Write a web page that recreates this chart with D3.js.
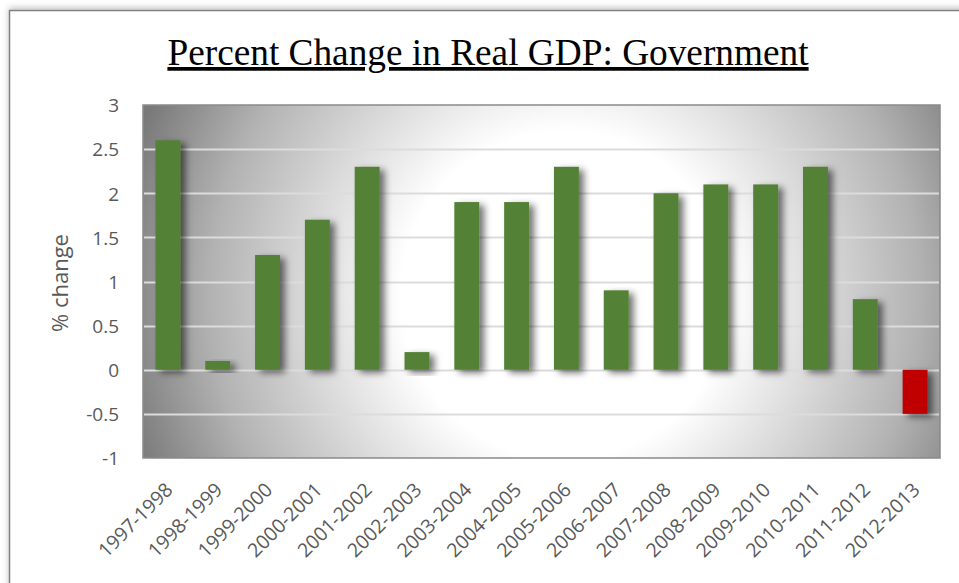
<!DOCTYPE html>
<html>
<head>
<meta charset="utf-8">
<script src="https://cdn.jsdelivr.net/npm/d3@7"></script>
<style>
  html, body { margin: 0; padding: 0; background: #fff; }
  svg { display: block; }
</style>
</head>
<body>
<svg id="chart" width="959" height="583"></svg>
<script>
// Annual percent change in real GDP, government sector
const periods = ["1997-1998","1998-1999","1999-2000","2000-2001","2001-2002","2002-2003",
  "2003-2004","2004-2005","2005-2006","2006-2007","2007-2008","2008-2009",
  "2009-2010","2010-2011","2011-2012","2012-2013"];
const pctChange = [2.6, 0.1, 1.3, 1.7, 2.3, 0.2, 1.9, 1.9, 2.3, 0.9, 2.0, 2.1, 2.1, 2.3, 0.8, -0.5];
const yTicks = [-1, -0.5, 0, 0.5, 1, 1.5, 2, 2.5, 3];
const titleText = "Percent Change in Real GDP: Government";
const yTitle = "% change";

const svg = d3.select("#chart");
const W = 959, H = 583;
const plot = { left: 143, right: 940, top: 105, bottom: 458 };

const defs = svg.append("defs");

// soft shadow behind the outer frame
const fShadow = defs.append("filter").attr("id", "frameShadow")
  .attr("x", "-5%").attr("y", "-5%").attr("width", "110%").attr("height", "110%");
fShadow.append("feDropShadow").attr("dx", 0).attr("dy", -2).attr("stdDeviation", 3)
  .attr("flood-color", "#000").attr("flood-opacity", 0.25);

// plot-area radial fill: white centre fading to grey corners
const rg = defs.append("radialGradient").attr("id", "plotFill")
  .attr("gradientUnits", "userSpaceOnUse")
  .attr("cx", 565).attr("cy", 295).attr("r", 455);
rg.append("stop").attr("offset", 0).attr("stop-color", "#ffffff");
rg.append("stop").attr("offset", 0.36).attr("stop-color", "#ffffff");
rg.append("stop").attr("offset", 0.78).attr("stop-color", "#b2b2b2");
rg.append("stop").attr("offset", 1).attr("stop-color", "#797979");

// bar drop shadow
const fBar = defs.append("filter").attr("id", "barShadow")
  .attr("x", "-40%").attr("y", "-20%").attr("width", "200%").attr("height", "150%");
fBar.append("feDropShadow").attr("dx", 5).attr("dy", 3).attr("stdDeviation", 3.5)
  .attr("flood-color", "#000").attr("flood-opacity", 0.55);

// outer chart frame
svg.append("rect")
  .attr("x", 9.5).attr("y", 10.5).attr("width", W + 20).attr("height", H + 20)
  .attr("fill", "#fff").attr("stroke", "#7f7f7f").attr("stroke-width", 1.5)
  .attr("filter", "url(#frameShadow)");

// title
svg.append("text")
  .attr("x", 488).attr("y", 65)
  .attr("text-anchor", "middle")
  .attr("font-family", "'Liberation Serif', 'Times New Roman', serif")
  .attr("font-size", 37.3)
  .attr("fill", "#000")
  .attr("text-decoration", "underline")
  .text(titleText);

// scales
const x = d3.scaleBand().domain(periods).range([plot.left, plot.right]).paddingInner(0.5).paddingOuter(0.25);
const y = d3.scaleLinear().domain([-1, 3]).range([plot.bottom, plot.top]);

// plot background
svg.append("rect")
  .attr("x", plot.left).attr("y", plot.top)
  .attr("width", plot.right - plot.left).attr("height", plot.bottom - plot.top)
  .attr("fill", "url(#plotFill)")
  .attr("stroke", "#8a8a8a").attr("stroke-width", 1.5);

// gridlines
svg.append("g").selectAll("line")
  .data(yTicks.filter(d => d > -1 && d < 3))
  .join("line")
  .attr("x1", plot.left + 1).attr("x2", plot.right - 1)
  .attr("y1", d => Math.round(y(d)) + 0.5).attr("y2", d => Math.round(y(d)) + 0.5)
  .attr("stroke", "#dcdcdc").attr("stroke-width", 2);

// bars
svg.append("g").selectAll("rect")
  .data(periods.map((p, i) => ({ p, v: pctChange[i] })))
  .join("rect")
  .attr("x", d => x(d.p))
  .attr("width", x.bandwidth())
  .attr("y", d => y(Math.max(0, d.v)))
  .attr("height", d => Math.abs(y(d.v) - y(0)))
  .attr("fill", d => d.v < 0 ? "#c00000" : "#538135")
  .attr("filter", "url(#barShadow)");

// y axis
const yAxis = d3.axisLeft(y).tickValues(yTicks).tickSize(0).tickPadding(24)
  .tickFormat(d => String(d));
const gy = svg.append("g").attr("transform", `translate(${plot.left},0)`).call(yAxis);
gy.select(".domain").remove();
gy.selectAll("text")
  .attr("font-family", "'Open Sans', 'Liberation Sans', sans-serif")
  .attr("font-size", 19)
  .attr("fill", "#595959")
  .attr("dy", "0.36em");

// x axis
const xAxis = d3.axisBottom(x).tickSize(0).tickPadding(0);
const gx = svg.append("g").attr("transform", `translate(0,${plot.bottom})`).call(xAxis);
gx.select(".domain").remove();
gx.selectAll("text")
  .attr("font-family", "'Open Sans', 'Liberation Sans', sans-serif")
  .attr("font-size", 19.5)
  .attr("fill", "#595959")
  .attr("text-anchor", "end")
  .attr("dy", 0)
  .attr("y", 0)
  .attr("transform", "translate(6,33) rotate(-45)");

// y axis title
svg.append("text")
  .attr("transform", "translate(68,283) rotate(-90)")
  .attr("text-anchor", "middle")
  .attr("font-family", "'Open Sans', 'Liberation Sans', sans-serif")
  .attr("font-size", 22)
  .attr("fill", "#595959")
  .text(yTitle);
</script>
</body>
</html>
